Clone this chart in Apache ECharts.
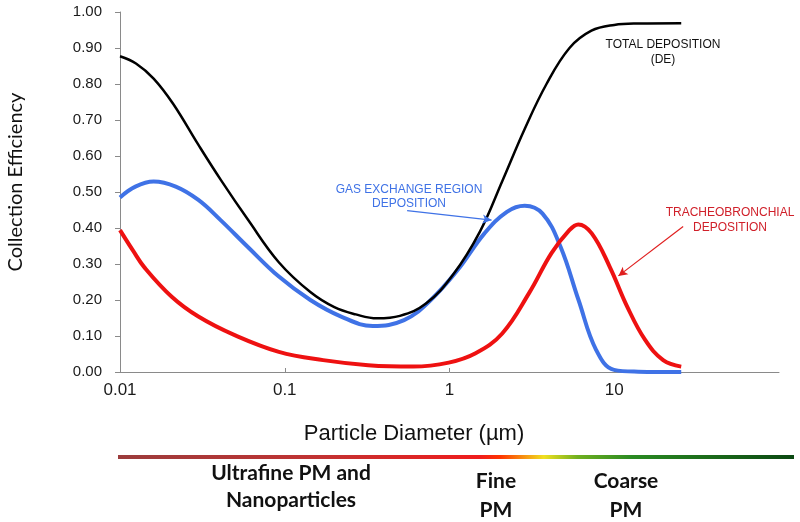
<!DOCTYPE html>
<html>
<head>
<meta charset="utf-8">
<script src="https://cdn.jsdelivr.net/npm/echarts@6/dist/echarts.min.js"></script>
<style>html,body{margin:0;padding:0;background:#fff;}#c{width:800px;height:522px;}</style>
</head>
<body>
<div id="c"></div>
<script>
// ---- data (particle diameter in µm, collection efficiency) ----
const totalDiam = [0.01,0.0125,0.016,0.021,0.03,0.041,0.06,0.092,0.143,0.2,0.27,0.364,0.5,0.72,1.05,1.53,2.09,2.86,3.88,5.35,7.27,10,14,25.5];
const totalEff  = [0.877,0.857,0.815,0.745,0.63,0.533,0.422,0.305,0.222,0.18,0.16,0.149,0.156,0.19,0.27,0.39,0.53,0.675,0.8,0.9,0.948,0.964,0.968,0.969];

const gasDiam = [0.01,0.0124,0.016,0.0218,0.0299,0.0408,0.0595,0.0921,0.143,0.22,0.342,0.53,0.77,1.12,1.63,2.23,2.86,3.67,4.72,6.07,7.77,9.97,14,25.5];
const gasEff  = [0.485,0.515,0.529,0.515,0.478,0.422,0.348,0.265,0.2,0.154,0.128,0.144,0.2,0.283,0.385,0.445,0.462,0.44,0.348,0.2,0.061,0.006,0.001,0.0];

const tbDiam = [0.01,0.012,0.0141,0.0206,0.0299,0.0493,0.0921,0.171,0.321,0.601,0.989,1.44,2.09,3.04,4.16,5.34,6.05,7.3,9.37,12.0,15.4,19.8,25.5];
const tbEff  = [0.394,0.337,0.29,0.209,0.154,0.103,0.056,0.033,0.019,0.015,0.026,0.052,0.107,0.219,0.33,0.394,0.41,0.385,0.293,0.181,0.089,0.033,0.015];

const xTickValues = [0.01, 0.1, 1, 10];
const xTickLabels = ['0.01', '0.1', '1', '10'];
const yTickCount = 10;

const seriesNames = ['TOTAL DEPOSITION (DE)', 'GAS EXCHANGE REGION DEPOSITION', 'TRACHEOBRONCHIAL DEPOSITION'];
const sizeClasses = ['Ultrafine PM and\nNanoparticles', 'Fine\nPM', 'Coarse\nPM'];

function pairs(xs, ys){ return xs.map((x,i)=>[x, ys[i]]); }

const chart = echarts.init(document.getElementById('c'), null, {renderer:'canvas'});
const axisGray = '#8a8a8a';
const labelFont = '12px "Liberation Sans Narrow", "Liberation Sans", Arial';
const option = {
  animation: false,
  backgroundColor: '#fff',
  grid: {left:120, right:21, top:12, bottom:150, containLabel:false},
  xAxis: {
    type:'log', logBase:10, min:0.01, max:100,
    axisLine:{show:true, lineStyle:{color:axisGray, width:1}},
    axisTick:{show:true, inside:true, length:4, lineStyle:{color:axisGray}, customValues: xTickValues},
    axisLabel:{show:true, margin:10, fontSize:17, color:'#1a1a1a', fontFamily:'Liberation Sans, Arial, sans-serif',
      customValues: xTickValues,
      formatter:(v)=>{ const i = xTickValues.findIndex(t=>Math.abs(Math.log10(t)-Math.log10(v))<1e-6); return i>=0 ? xTickLabels[i] : ''; }},
    splitLine:{show:false}, minorTick:{show:false}
  },
  yAxis: {
    type:'value', min:0, max:1, interval:1/yTickCount,
    axisLine:{show:true, lineStyle:{color:axisGray, width:1}},
    axisTick:{show:true, inside:false, length:5, lineStyle:{color:axisGray}},
    axisLabel:{margin:18, fontSize:15, color:'#1a1a1a', fontFamily:'Liberation Sans, Arial, sans-serif',
      formatter:(v)=>v.toFixed(2)},
    splitLine:{show:false}
  },
  series: [
    {name:seriesNames[0], type:'line', data:pairs(totalDiam,totalEff), smooth:0.4, showSymbol:false,
     lineStyle:{color:'#000', width:2.5}, z:3},
    {name:seriesNames[1], type:'line', data:pairs(gasDiam,gasEff), smooth:0.4, showSymbol:false,
     lineStyle:{color:'#3f72e6', width:4}, z:2,
     markLine:{silent:true, symbol:['none','arrow'], symbolSize:[7,9], label:{show:false},
       lineStyle:{color:'#3f72e6', width:1.2, type:'solid'},
       data:[[{coord:[0.553,0.448]},{coord:[1.80,0.422]}]]}},
    {name:seriesNames[2], type:'line', data:pairs(tbDiam,tbEff), smooth:0.4, showSymbol:false,
     lineStyle:{color:'#ee1111', width:4}, z:2,
     markLine:{silent:true, symbol:['none','arrow'], symbolSize:[7,9], label:{show:false},
       lineStyle:{color:'#e01e1e', width:1.2, type:'solid'},
       data:[[{coord:[26.2,0.404]},{coord:[10.6,0.267]}]]}}
  ],
  graphic: [
    {type:'text', x:663, y:52, style:{text:'TOTAL DEPOSITION\n(DE)', fill:'#111', font:labelFont, align:'center', verticalAlign:'middle', lineHeight:15}},
    {type:'text', x:409, y:197, style:{text:'GAS EXCHANGE REGION\nDEPOSITION', fill:'#3f72e6', font:labelFont, align:'center', verticalAlign:'middle', lineHeight:14}},
    {type:'text', x:730, y:220, style:{text:'TRACHEOBRONCHIAL\nDEPOSITION', fill:'#d0202a', font:labelFont, align:'center', verticalAlign:'middle', lineHeight:15}},
    {type:'text', x:16, y:182, rotation:Math.PI/2, style:{text:'Collection Efficiency', fill:'#111', font:'20px Lato, "Open Sans", sans-serif', align:'center', verticalAlign:'middle'}},
    {type:'text', x:414, y:434, style:{text:'Particle Diameter (\u00b5m)', fill:'#111', font:'22px "Liberation Sans", Arial', align:'center', verticalAlign:'middle'}},
    {type:'rect', shape:{x:118, y:455, width:676, height:4},
     style:{fill:new echarts.graphic.LinearGradient(0,0,1,0,[
       {offset:0, color:'#9b3c3c'},
       {offset:0.3, color:'#c23232'},
       {offset:0.535, color:'#f01c1c'},
       {offset:0.565, color:'#ff3300'},
       {offset:0.63, color:'#f0e020'},
       {offset:0.68, color:'#70b020'},
       {offset:0.76, color:'#2a8a22'},
       {offset:1, color:'#0b4812'}])}},
    {type:'text', x:291, y:487, style:{text:sizeClasses[0], fill:'#111', font:'bold 21px Lato, "Open Sans", sans-serif', align:'center', verticalAlign:'middle', lineHeight:27}},
    {type:'text', x:496, y:496, style:{text:sizeClasses[1], fill:'#111', font:'bold 21px Lato, "Open Sans", sans-serif', align:'center', verticalAlign:'middle', lineHeight:29}},
    {type:'text', x:626, y:496, style:{text:sizeClasses[2], fill:'#111', font:'bold 21px Lato, "Open Sans", sans-serif', align:'center', verticalAlign:'middle', lineHeight:29}}
  ]
};
chart.setOption(option);
</script>
</body>
</html>
